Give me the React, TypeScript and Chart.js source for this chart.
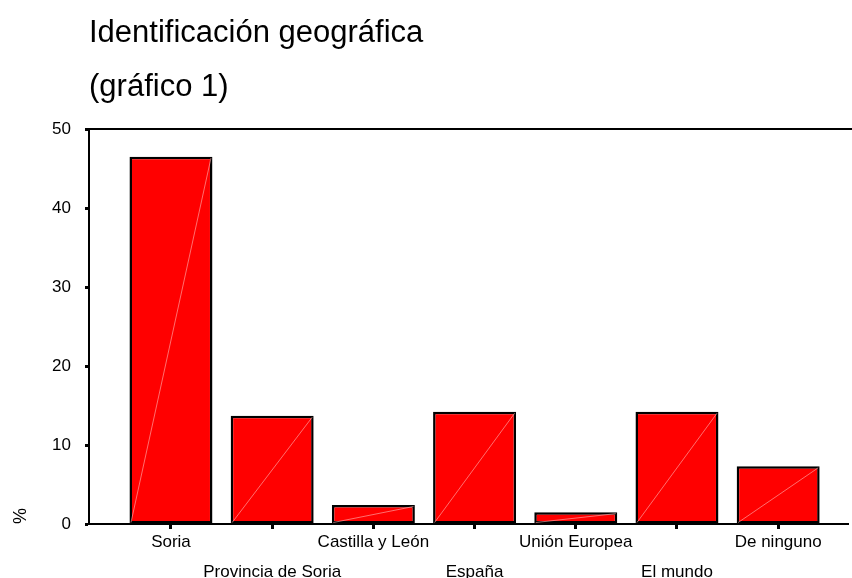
import React, { useEffect, useRef } from "react";
import { Chart, registerables } from "chart.js";

Chart.register(...registerables);

const titleLines = ["Identificación geográfica", "(gráfico 1)"];
const categories = [
  "Soria",
  "Provincia de Soria",
  "Castilla y León",
  "España",
  "Unión Europea",
  "El mundo",
  "De ninguno",
];
const percentages = [46.5, 13.7, 2.4, 14.2, 1.5, 14.2, 7.3];
const yTicks = [0, 10, 20, 30, 40, 50];
const yAxisTitle = "%";

const FONT = "'Liberation Sans', Arial, Helvetica, sans-serif";

const decorPlugin = {
  id: "decor",
  afterDatasetsDraw(chart: any) {
    const ctx = chart.ctx;
    const meta = chart.getDatasetMeta(0);
    ctx.save();
    ctx.strokeStyle = "rgba(255,175,175,0.9)";
    ctx.lineWidth = 0.7;
    meta.data.forEach((bar: any) => {
      const { x, y, base, width } = bar.getProps(["x", "y", "base", "width"], true);
      ctx.beginPath();
      ctx.moveTo(x - width / 2 + 1.5, base - 1);
      ctx.lineTo(x + width / 2 - 1.5, y + 1.5);
      ctx.stroke();
    });
    ctx.restore();
  },
  afterDraw(chart: any) {
    const ctx = chart.ctx;
    const area = chart.chartArea;
    ctx.save();
    ctx.strokeStyle = "#000";
    ctx.lineWidth = 2;
    ctx.beginPath();
    ctx.moveTo(area.left, area.top);
    ctx.lineTo(chart.width, area.top);
    ctx.stroke();
    ctx.fillStyle = "#000";
    ctx.font = `31px ${FONT}`;
    ctx.textAlign = "left";
    ctx.textBaseline = "alphabetic";
    ctx.fillText(titleLines[0], area.left, 42);
    ctx.fillText(titleLines[1], area.left, 96);
    ctx.restore();
  },
};

export default function App() {
  const ref = useRef<HTMLCanvasElement | null>(null);
  useEffect(() => {
    if (!ref.current) return;
    const chart = new Chart(ref.current, {
      type: "bar",
      data: {
        datasets: [
          {
            data: percentages.map((v, i) => ({ x: i, y: v })),
            backgroundColor: "#ff0000",
            borderColor: "#000000",
            borderWidth: 2.5,
            borderSkipped: false,
            barPercentage: 0.82,
            categoryPercentage: 1,
          },
        ],
      },
      options: {
        responsive: false,
        animation: false,
        layout: { padding: { top: 129, right: 4, left: 0, bottom: 0 } },
        plugins: {
          legend: { display: false },
          tooltip: { enabled: false },
          title: { display: false },
        },
        scales: {
          x: {
            type: "linear",
            offset: false,
            min: -0.81,
            max: 6.69,
            afterBuildTicks: (scale: any) => {
              scale.ticks = categories.map((_, i) => ({ value: i }));
            },
            afterFit: (scale: any) => {
              scale.height = 54;
            },
            border: { display: true, color: "#000", width: 2 },
            grid: {
              offset: false,
              drawOnChartArea: false,
              drawTicks: true,
              tickLength: 5,
              tickWidth: 3,
              tickColor: "#000",
            },
            ticks: {
              autoSkip: false,
              maxRotation: 0,
              padding: -2,
              color: "#000",
              font: { family: FONT, size: 17, lineHeight: 1.76 },
              callback: (value: any) => {
                const i = Math.round(Number(value));
                const label = categories[i] ?? "";
                return i % 2 === 0 ? label : ["", label];
              },
            },
          },
          y: {
            min: 0,
            max: 50,
            afterBuildTicks: (scale: any) => {
              scale.ticks = yTicks.map((v) => ({ value: v }));
            },
            afterFit: (scale: any) => {
              scale.width = 89;
            },
            border: { display: true, color: "#000", width: 2 },
            grid: {
              drawOnChartArea: false,
              drawTicks: true,
              tickLength: 4,
              tickWidth: 3,
              tickColor: "#000",
            },
            ticks: {
              padding: 14,
              color: "#000",
              font: { family: FONT, size: 17 },
            },
            title: {
              display: true,
              text: yAxisTitle,
              align: "start",
              color: "#000",
              font: { family: FONT, size: 18 },
              padding: { top: 10, bottom: 0 },
            },
          },
        },
      },
      plugins: [decorPlugin],
    } as any);
    return () => chart.destroy();
  }, []);
  return (
    <div style={{ position: "absolute", left: 0, top: 0, width: 852, height: 578, background: "#fff" }}>
      <canvas ref={ref} width={852} height={578} style={{ display: "block" }} />
    </div>
  );
}
